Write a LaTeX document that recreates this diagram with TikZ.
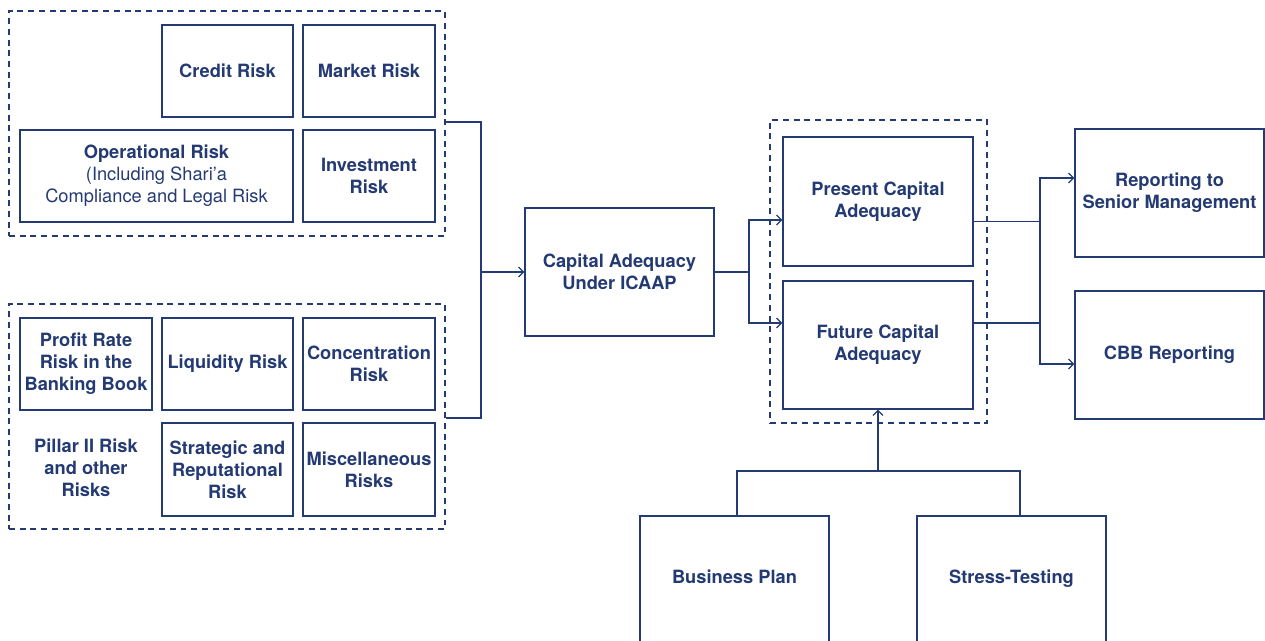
\documentclass[tikz,border=0pt]{standalone}
\usepackage{fontspec}
\setmainfont{TeX Gyre Heros}
\usetikzlibrary{arrows.meta}
\definecolor{navy}{HTML}{243A73}
\tikzset{
  riskbox/.style={draw=navy, line width=0.7pt, text=navy, font=\bfseries\fontsize{10.4}{12.5}\selectfont, align=center, inner sep=0pt},
  groupbox/.style={draw=navy, line width=0.7pt, dash pattern=on 3.4pt off 2.7pt, inner sep=0pt},
  link/.style={draw=navy, line width=0.7pt},
  >={Straight Barb[length=1mm,width=2mm]}
}
\begin{document}
\begin{tikzpicture}[x=0.02cm, y=-0.02cm]
  \useasboundingbox (0,0) rectangle (1265,641);
      % risk groups
      \node[groupbox, minimum width=8.72cm, minimum height=4.5cm] (topgrp) at (227,123.5) {};
      \node[groupbox, minimum width=8.72cm, minimum height=4.5cm] (botgrp) at (227,416.5) {};
      \node[riskbox, minimum width=2.62cm, minimum height=1.84cm] (credit) at (227.5,71) {Credit Risk};
      \node[riskbox, minimum width=2.64cm, minimum height=1.84cm] (market) at (369,71) {Market Risk};
      \node[riskbox, minimum width=5.46cm, minimum height=1.84cm] (oper) at (156.5,176) {Operational Risk\\\mdseries(Including Shari’a\\\mdseries Compliance and Legal Risk};
      \node[riskbox, minimum width=2.64cm, minimum height=1.84cm] (invest) at (369,176) {Investment\\Risk};
      \node[riskbox, minimum width=2.64cm, minimum height=1.84cm] (profit) at (86,364) {Profit Rate\\Risk in the\\Banking Book};
      \node[riskbox, minimum width=2.62cm, minimum height=1.84cm] (liquid) at (227.5,364) {Liquidity Risk};
      \node[riskbox, minimum width=2.64cm, minimum height=1.84cm] (concen) at (369,364) {Concentration\\Risk};
      \node[riskbox, draw=none] (pillar) at (86,468) {Pillar II Risk\\and other\\Risks};
      \node[riskbox, minimum width=2.62cm, minimum height=1.86cm] (strat) at (227.5,469.5) {Strategic and\\Reputational\\Risk};
      \node[riskbox, minimum width=2.64cm, minimum height=1.86cm] (misc) at (369,469.5) {Miscellaneous\\Risks};
      % capital adequacy
      \node[riskbox, minimum width=3.78cm, minimum height=2.56cm] (icaap) at (619.5,272) {Capital Adequacy\\Under ICAAP};
      \node[groupbox, minimum width=4.34cm, minimum height=6.06cm] (midgrp) at (878.5,271.5) {};
      \node[riskbox, minimum width=3.8cm, minimum height=2.58cm] (present) at (878,201.5) {Present Capital\\Adequacy};
      \node[riskbox, minimum width=3.8cm, minimum height=2.56cm] (future) at (878,345) {Future Capital\\Adequacy};
      \node[riskbox, minimum width=3.78cm, minimum height=2.56cm] (report) at (1169.5,193) {Reporting to\\Senior Management};
      \node[riskbox, minimum width=3.78cm, minimum height=2.56cm] (cbb) at (1169.5,355) {CBB Reporting};
      \node[riskbox, minimum width=3.78cm, minimum height=2.88cm] (plan) at (734.5,588) {\raisebox{0.46cm}{Business Plan}};
      \node[riskbox, minimum width=3.78cm, minimum height=2.88cm] (stress) at (1011.5,588) {\raisebox{0.46cm}{Stress-Testing}};
      % connectors
      \coordinate (join) at (481,272);
      \coordinate (split) at (749,272);
      \coordinate (merge) at (1040,221.5);
      \coordinate (feed) at (878,471);
      \draw[link] ([yshift=0.03cm]topgrp.east) -| (join) |- ([yshift=-0.03cm]botgrp.east);
      \draw[link, ->] (join) -- (icaap.west);
      \draw[link] (icaap.east) -- (split);
      \draw[link, ->] (split) |- ([yshift=-0.37cm]present.west);
      \draw[link, ->] (split) |- ([yshift=0.44cm]future.west);
      \draw[link] (present.east |- merge) -- (merge);
      \draw[link] ([yshift=0.44cm]future.east) -| (merge);
      \draw[link, ->] (merge) |- ([yshift=0.3cm]report.west);
      \draw[link, ->] (merge) |- ([yshift=-0.18cm]cbb.west);
      \draw[link] ([xshift=0.05cm]plan.north) |- (feed) -| ([xshift=0.17cm]stress.north);
      \draw[link, ->] (feed) -- (future.south);
\end{tikzpicture}
\end{document}
